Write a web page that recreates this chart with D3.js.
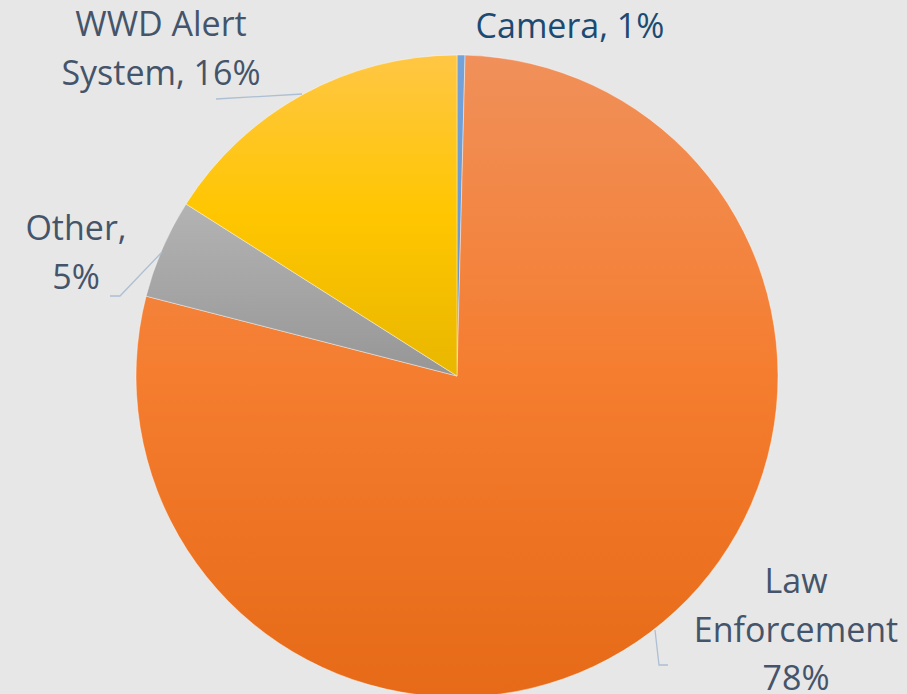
<!DOCTYPE html>
<html>
<head>
<meta charset="utf-8">
<style>
  body {margin: 0; background-color: #e7e7e7;}
  svg {display: block;}
  .lbl {font-family: "Open Sans", sans-serif; font-size: 34px; fill: #44546a;}
</style>
</head>
<body>
<svg id="chart" width="907" height="694"></svg>
<script src="https://d3js.org/d3.v7.min.js"></script>
<script>
// slices clockwise from 12 o'clock
var categories = ["Camera", "Law Enforcement", "Other", "WWD Alert System"];
var values = [0.4, 78.6, 5.0, 16.0];
var labelLines = [["Camera, 1%"], ["Law", "Enforcement", "78%"], ["Other,", "5%"], ["WWD Alert", "System, 16%"]];

var colors = {
  "Camera": ["#74a3da", "#6a9bd4", "#5f92cc"],
  "Law Enforcement": ["#f0905a", "#f57d2f", "#e66a17"],
  "Other": ["#b3b3b3", "#a5a5a5", "#969696"],
  "WWD Alert System": ["#ffc645", "#ffc600", "#e9b700"]
};
// label anchor (centre x, first baseline) and leader polyline for each slice
var labelPos = {
  "Camera": {x: 570, y: 38, leader: null},
  "Law Enforcement": {x: 796, y: 593, leader: [[668, 665], [659, 665], [655, 630]]},
  "Other": {x: 76, y: 240, leader: [[110, 296], [120, 296], [162, 252]]},
  "WWD Alert System": {x: 161, y: 36, leader: [[216, 99], [302, 94]]}
};
var labelColor = {"Camera": "#1b4a72"};

var svg = d3.select("#chart");
var cx = 457, cy = 376, r = 321;

var defs = svg.append("defs");
categories.forEach(function(c, i) {
  var g = defs.append("linearGradient").attr("id", "grad" + i)
    .attr("x1", 0).attr("y1", 0).attr("x2", 0).attr("y2", 1);
  colors[c].forEach(function(col, j) {
    g.append("stop").attr("offset", j / 2).attr("stop-color", col);
  });
});

var data = categories.map(function(c, i) { return {name: c, value: values[i], idx: i}; });
var pie = d3.pie().sort(null).value(function(d) { return d.value; });
var arc = d3.arc().innerRadius(0).outerRadius(r);

var g = svg.append("g").attr("transform", "translate(" + cx + "," + cy + ")");
g.selectAll("path")
  .data(pie(data))
  .join("path")
  .attr("d", arc)
  .attr("fill", function(d) { return "url(#grad" + d.data.idx + ")"; })
  .attr("stroke", "#ffffff")
  .attr("stroke-opacity", 0.6)
  .attr("stroke-width", 0.7);

var line = d3.line();
categories.forEach(function(c, i) {
  var p = labelPos[c];
  if (p.leader) {
    svg.append("path").attr("d", line(p.leader))
      .attr("fill", "none").attr("stroke", "#adbfd2").attr("stroke-width", 1.3);
  }
  var t = svg.append("text").attr("class", "lbl")
    .attr("text-anchor", "middle")
    .style("fill", labelColor[c] || null);
  labelLines[i].forEach(function(s, k) {
    t.append("tspan").attr("x", p.x).attr("y", p.y + k * 48.5).text(s);
  });
});
</script>
</body>
</html>
